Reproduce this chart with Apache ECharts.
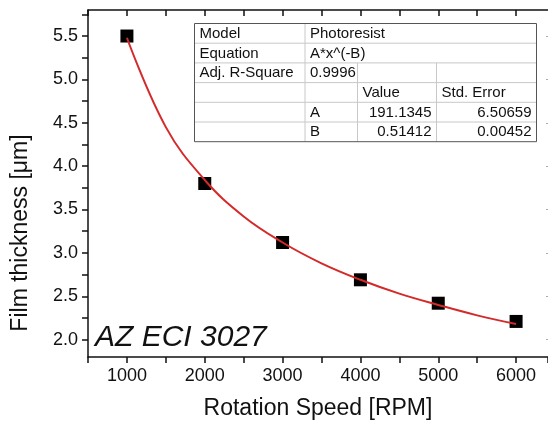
<!DOCTYPE html>
<html>
<head>
<meta charset="utf-8">
<script src="https://cdn.jsdelivr.net/npm/echarts@6.0.0/dist/echarts.min.js"></script>
<style>
html, body { margin: 0; padding: 0; background: #fff; overflow: hidden; }
#chart { width: 548px; height: 426px; }
</style>
</head>
<body>
<div id="chart"></div>
<script>
// measured points
var speeds = [1000, 2000, 3000, 4000, 5000, 6000];
var thickness = [5.5, 3.8, 3.12, 2.69, 2.42, 2.21];
// red fit curve
var fitSpeeds = [1000, 1500, 2000, 2500, 3000, 3500, 4000, 4500, 5000, 5500, 6000];
var fitThickness = [5.48, 4.45, 3.84, 3.42, 3.12, 2.88, 2.69, 2.53, 2.40, 2.28, 2.18];
// axis ticks
var xLabels = [1000, 2000, 3000, 4000, 5000, 6000];
var yLabels = [2.0, 2.5, 3.0, 3.5, 4.0, 4.5, 5.0, 5.5];
var yTicks = [2.0, 2.25, 2.5, 2.75, 3.0, 3.25, 3.5, 3.75, 4.0, 4.25, 4.5, 4.75, 5.0, 5.25, 5.5, 5.75];
// fit result table
var tableRows = [
  ['Model', 'Photoresist', '', ''],
  ['Equation', 'A*x^(-B)', '', ''],
  ['Adj. R-Square', '0.9996', '', ''],
  ['', '', 'Value', 'Std. Error'],
  ['', 'A', '191.1345', '6.50659'],
  ['', 'B', '0.51412', '0.00452']
];

var font = "'Liberation Sans', Arial, sans-serif";
var myChart = echarts.init(document.getElementById('chart'));

// table layout
var colX = [194.5, 305, 357.5, 436.5, 536.5];
var rowTop = 23.5, rowH = 19.7;
var tbl = [];
var tblBottom = rowTop + rowH * tableRows.length;
for (var r = 1; r < tableRows.length; r++) {
  var yy = rowTop + rowH * r;
  tbl.push({ type: 'line', shape: { x1: colX[0], y1: yy, x2: colX[4], y2: yy }, style: { stroke: '#c8c8c8', lineWidth: 1 } });
}
tbl.push({ type: 'line', shape: { x1: colX[1], y1: rowTop, x2: colX[1], y2: tblBottom }, style: { stroke: '#c8c8c8', lineWidth: 1 } });
[2, 3].forEach(function (c) {
  tbl.push({ type: 'line', shape: { x1: colX[c], y1: rowTop + rowH * 2, x2: colX[c], y2: tblBottom }, style: { stroke: '#c8c8c8', lineWidth: 1 } });
});
tbl.push({ type: 'rect', shape: { x: colX[0], y: rowTop, width: colX[4] - colX[0], height: tblBottom - rowTop }, style: { fill: 'none', stroke: '#555', lineWidth: 1 } });
tableRows.forEach(function (row, r) {
  row.forEach(function (txt, c) {
    if (!txt) return;
    var right = r >= 4 && c >= 2;
    tbl.push({
      type: 'text',
      style: {
        text: txt,
        x: right ? colX[c + 1] - 5 : colX[c] + 5,
        y: rowTop + rowH * r + rowH / 2 + 0.5,
        align: right ? 'right' : 'left',
        verticalAlign: 'middle',
        font: '15px ' + font,
        fill: '#111'
      }
    });
  });
});

// the frame runs past the right edge of the picture, so the x range stops at the edge
myChart.setOption({
  animation: false,
  grid: { left: 88, right: 0, top: 10, bottom: 69 },
  xAxis: [
    {
      type: 'value', position: 'bottom', min: 500, max: 6410, interval: 500,
      axisLine: { lineStyle: { color: '#111', width: 1.5 } },
      axisTick: { length: 6, lineStyle: { color: '#111', width: 1.5 } },
      axisLabel: { customValues: xLabels, margin: 10, color: '#111', fontSize: 18, fontFamily: font,
        formatter: function (v) { return String(v); } },
      splitLine: { show: false },
      name: 'Rotation Speed [RPM]', nameLocation: 'middle', nameGap: 40,
      nameTextStyle: { color: '#111', fontSize: 23, fontFamily: font }
    },
    {
      type: 'value', position: 'top', min: 500, max: 6410, interval: 500,
      axisLine: { lineStyle: { color: '#111', width: 1.5 } },
      axisTick: { inside: true, length: 6, customValues: [500, 1000, 1500, 2000, 2500, 3000, 3500, 4000, 4500, 5000, 5500, 6000],
        lineStyle: { color: '#111', width: 1.5 } },
      axisLabel: { show: false },
      splitLine: { show: false }
    }
  ],
  yAxis: [
    {
      type: 'value', position: 'left', min: 1.8, max: 5.8,
      axisLine: { show: true, lineStyle: { color: '#111', width: 1.5 } },
      axisTick: { show: true, customValues: yTicks, length: 6, lineStyle: { color: '#111', width: 1.5 } },
      axisLabel: { customValues: yLabels, margin: 10, color: '#111', fontSize: 18, fontFamily: font,
        formatter: function (v) { return v.toFixed(1); } },
      splitLine: { show: false }
    },
    {
      type: 'value', position: 'right', min: 1.8, max: 5.8,
      axisLine: { show: false },
      axisTick: { show: true, inside: true, customValues: yLabels, length: 2, lineStyle: { color: '#aaa', width: 1 } },
      axisLabel: { show: false },
      splitLine: { show: false }
    }
  ],
  graphic: [
    {
      type: 'text', x: 21, y: 233, rotation: Math.PI / 2,
      style: { text: 'Film thickness [\u03bcm]', align: 'center', verticalAlign: 'middle', font: '23px ' + font, fill: '#111' }
    },
    {
      type: 'text',
      style: { text: 'AZ ECI 3027', x: 95, y: 338, align: 'left', verticalAlign: 'middle', font: 'italic 30px ' + font, fill: '#111' }
    }
  ].concat(tbl),
  series: [
    {
      type: 'scatter', xAxisIndex: 0, yAxisIndex: 0,
      symbol: 'rect', symbolSize: 13,
      itemStyle: { color: '#000', opacity: 1 },
      data: speeds.map(function (s, i) { return [s, thickness[i]]; })
    },
    {
      type: 'line', xAxisIndex: 0, yAxisIndex: 0,
      smooth: 0.4, showSymbol: false, symbol: 'none',
      lineStyle: { color: '#d42a2a', width: 2 },
      data: fitSpeeds.map(function (s, i) { return [s, fitThickness[i]]; })
    }
  ]
});
</script>
</body>
</html>
